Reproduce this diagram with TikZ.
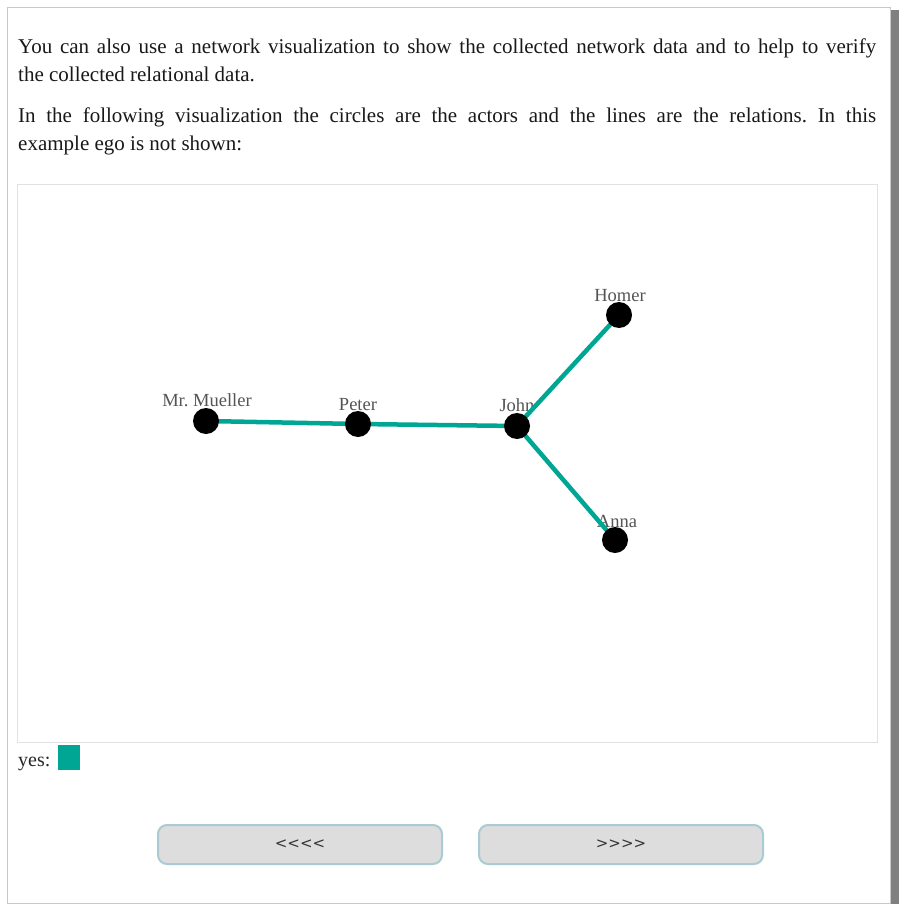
\documentclass[tikz,border=0pt]{standalone}
\usepackage{fontspec}
\setmainfont{Liberation Serif}
\newfontfamily\btnfont{DejaVu Sans}
\usetikzlibrary{positioning}
\definecolor{edgeteal}{RGB}{0,166,148}
\definecolor{labelgray}{RGB}{85,85,85}
\definecolor{btnfill}{RGB}{221,221,221}
\definecolor{btnborder}{RGB}{170,202,212}
\definecolor{pageline}{RGB}{200,200,200}
\definecolor{boxline}{RGB}{226,226,226}
\definecolor{shadowgray}{RGB}{128,128,128}
\pgfdeclarelayer{page}
\pgfdeclarelayer{links}
\pgfsetlayers{page,links,main}
\frenchspacing
\tikzset{
  actor/.style={circle, fill=black, minimum size=26pt, inner sep=0pt},
  actorlabel/.style={anchor=base, inner sep=0pt, text=labelgray, font=\fontsize{18.5}{20}\selectfont},
  relation/.style={draw=edgeteal, line width=4.5pt},
  para/.style={anchor=base west, text width=858pt, align=justify, inner sep=0pt, font=\fontsize{21}{28}\selectfont, text=black!90},
  navbutton/.style={rectangle, rounded corners=9pt, draw=btnborder, line width=2pt, fill=btnfill, minimum width=284pt, minimum height=39pt, font=\btnfont\fontsize{15}{15}\selectfont, text=black!80},
  yesbox/.style={rectangle, fill=edgeteal, minimum width=22pt, minimum height=25pt, inner sep=0pt},
}
\begin{document}
\begin{tikzpicture}[x=1pt, y=-1pt]
\useasboundingbox (0,0) rectangle (899,904);
\begin{pgfonlayer}{page}
\fill[white] (0,0) rectangle (899,904);
\fill[shadowgray] (891,10) rectangle (899,904);
\draw[pageline, line width=1pt] (7.5,7.5) rectangle (890.5,903);
\draw[boxline, line width=1pt] (17,185) rectangle (877,742);
\end{pgfonlayer}
\node (intro) [para] at (18,54) {You can also use a network visualization to show the collected network data and to help to verify\linebreak the collected relational data.};
\node (legend) [para] at (18,123) {In the following visualization the circles are the actors and the lines are the relations. In this\linebreak example ego is not shown:};
\node (mueller) [actor] at (206,421) {};
\node (peter) [actor] at (358,424) {};
\node (john) [actor] at (517,426) {};
\node (homer) [actor] at (619,315) {};
\node (anna) [actor] at (615,540) {};
\begin{pgfonlayer}{links}
\node (muellerlab) [actorlabel] at ([xshift=1pt, yshift=15pt]mueller.center) {Mr. Mueller};
\node (peterlab) [actorlabel] at ([yshift=14pt]peter.center) {Peter};
\node (johnlab) [actorlabel] at ([yshift=15pt]john.center) {John};
\node (homerlab) [actorlabel] at ([xshift=1pt, yshift=14pt]homer.center) {Homer};
\node (annalab) [actorlabel] at ([xshift=2pt, yshift=13pt]anna.center) {Anna};
\draw[relation] (mueller.center) -- (peter.center);
\draw[relation] (peter.center) -- (john.center);
\draw[relation] (john.center) -- (homer.center);
\draw[relation] (john.center) -- (anna.center);
\end{pgfonlayer}
\node (yes) [yesbox] at (69,757.5) {};
\node (yeslab) [anchor=base west, inner sep=0pt, font=\fontsize{20}{22}\selectfont, text=black!85] at (18,766) {yes:};
\node (back) [navbutton] at (300,844.5) {<<<<};
\node (next) [navbutton] at (621,844.5) {>>>>};
\end{tikzpicture}
\end{document}
